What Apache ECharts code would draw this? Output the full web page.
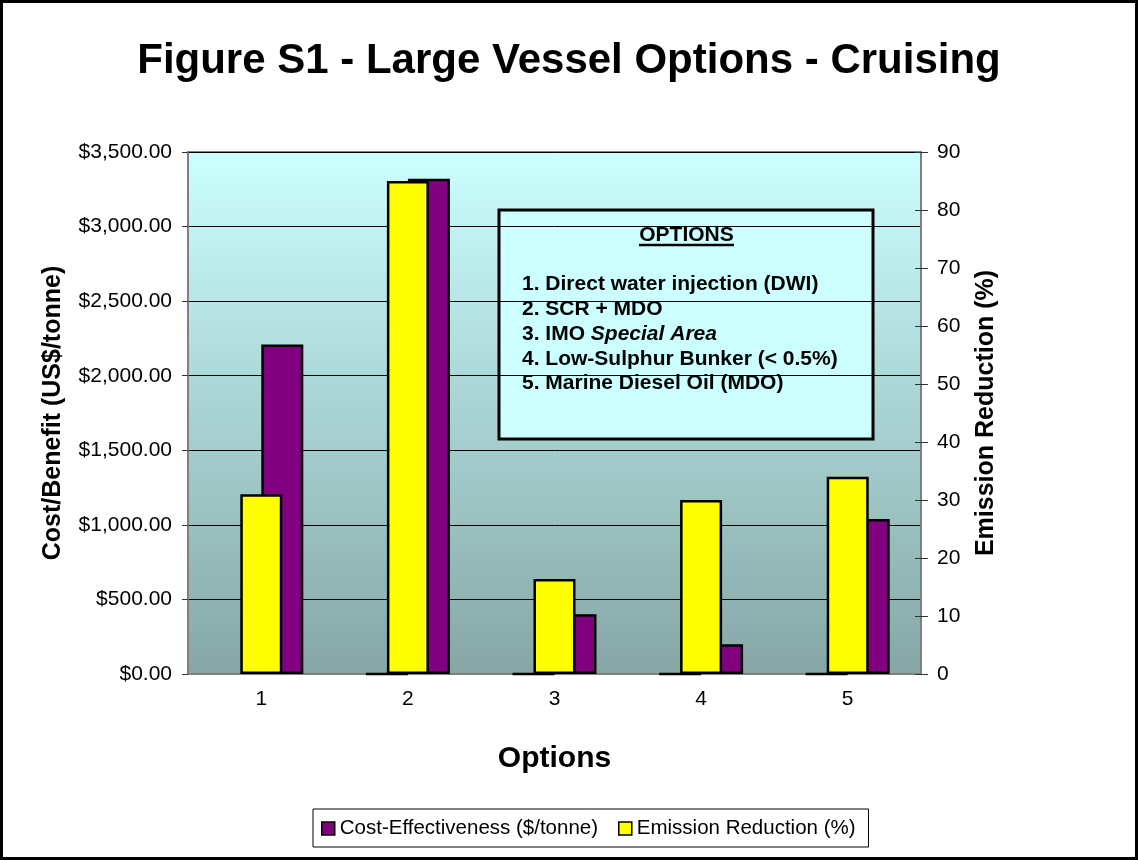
<!DOCTYPE html>
<html>
<head>
<meta charset="utf-8">
<script src="https://cdn.jsdelivr.net/npm/echarts@6/dist/echarts.min.js"></script>
<style>
  html, body { margin: 0; padding: 0; background: #fff; }
  #chart { width: 1138px; height: 860px; }
</style>
</head>
<body>
<div id="chart"></div>
<script>
// data
var options = ['1', '2', '3', '4', '5'];
var costEffectiveness = [2210, 3320, 400, 200, 1040];   // $/tonne, left axis
var emissionReduction = [31, 85, 16.4, 30, 34];          // %, right axis
var baseline = [null, 0, 0, 0, 0];                        // empty primary series (flat marks at 0)
var costMax = 3500, costStep = 500;
var emisMax = 90, emisStep = 10;

var optionLines = [
  '1. Direct water injection (DWI)',
  '2. SCR + MDO',
  '3. IMO {i|Special Area}',
  '4. Low-Sulphur Bunker (< 0.5%)',
  '5. Marine Diesel Oil (MDO)'
];

var FONT = 'Liberation Sans, Arial, sans-serif';

var chart = echarts.init(document.getElementById('chart'));

var option = {
  animation: false,
  textStyle: { fontFamily: FONT, color: '#000' },
  title: {
    text: 'Figure S1 - Large Vessel Options - Cruising',
    left: 'center',
    top: 35,
    textStyle: { fontFamily: FONT, fontSize: 42, fontWeight: 'bold', color: '#000' }
  },
  legend: {
    data: ['Cost-Effectiveness ($/tonne)', 'Emission Reduction (%)'],
    left: 313,
    top: 809,
    icon: 'rect',
    itemWidth: 13,
    itemHeight: 13,
    itemGap: 20,
    padding: [9, 13, 8, 8],
    borderColor: '#000',
    borderWidth: 1,
    backgroundColor: '#fff',
    itemStyle: { borderColor: '#000', borderWidth: 1.5 },
    textStyle: { fontFamily: FONT, fontSize: 20.5, color: '#000' }
  },
  grid: {
    left: 188,
    right: 217,
    top: 152,
    bottom: 186,
    show: true,
    borderColor: '#808080',
    borderWidth: 2,
    backgroundColor: {
      type: 'linear', x: 0, y: 0, x2: 0, y2: 1,
      colorStops: [
        { offset: 0, color: '#ccffff' },
        { offset: 1, color: '#86a6a6' }
      ]
    }
  },
  xAxis: [
    {
      type: 'category',
      data: options,
      boundaryGap: true,
      axisLine: { lineStyle: { color: '#808080', width: 2 } },
      axisTick: { length: 8, lineStyle: { color: '#333' } },
      axisLabel: { fontFamily: FONT, fontSize: 21, color: '#000', margin: 15 },
      name: 'Options',
      nameLocation: 'middle',
      nameGap: 70,
      nameTextStyle: { fontFamily: FONT, fontSize: 30, fontWeight: 'bold', color: '#000' }
    },
    {
      type: 'category',
      data: options,
      show: false
    }
  ],
  yAxis: [
    {
      type: 'value',
      position: 'left',
      min: 0, max: costMax, interval: costStep,
      axisLine: { show: true, lineStyle: { color: '#808080', width: 2 } },
      axisTick: { show: true, length: 6, lineStyle: { color: '#333' } },
      splitLine: { show: true, lineStyle: { color: '#000', width: 1 } },
      axisLabel: {
        fontFamily: FONT, fontSize: 21, color: '#000', margin: 16,
        formatter: function (v) {
          return '$' + v.toLocaleString('en-US', { minimumFractionDigits: 2, maximumFractionDigits: 2 });
        }
      },
      name: 'Cost/Benefit (US$/tonne)',
      nameLocation: 'middle',
      nameRotate: 90,
      nameGap: 122,
      nameTextStyle: { fontFamily: FONT, fontSize: 25, fontWeight: 'bold', color: '#000' }
    },
    {
      type: 'value',
      position: 'right',
      min: 0, max: emisMax, interval: emisStep,
      axisLine: { show: true, lineStyle: { color: '#808080', width: 2 } },
      axisTick: { show: true, length: 7, lineStyle: { color: '#333' } },
      splitLine: { show: false },
      axisLabel: { fontFamily: FONT, fontSize: 21, color: '#000', margin: 16 },
      name: 'Emission Reduction (%)',
      nameLocation: 'middle',
      nameRotate: 90,
      nameGap: 53,
      nameTextStyle: { fontFamily: FONT, fontSize: 25, fontWeight: 'bold', color: '#000' }
    },
    {
      // inner half of the crossing ticks on the right axis
      type: 'value',
      position: 'right',
      min: 0, max: emisMax, interval: emisStep,
      axisLine: { show: false },
      axisTick: { show: true, inside: true, length: 6, lineStyle: { color: '#333' } },
      axisLabel: { show: false },
      splitLine: { show: false }
    }
  ],
  series: [
    {
      name: 'Baseline',
      type: 'bar',
      xAxisIndex: 0,
      yAxisIndex: 0,
      barWidth: 42,
      barGap: '0%',
      data: baseline,
      itemStyle: { color: '#800080', borderColor: '#000', borderWidth: 2.5 }
    },
    {
      name: 'Cost-Effectiveness ($/tonne)',
      type: 'bar',
      xAxisIndex: 0,
      yAxisIndex: 0,
      barWidth: 42,
      barGap: '0%',
      data: costEffectiveness,
      itemStyle: { color: '#800080', borderColor: '#000', borderWidth: 2.5 }
    },
    {
      name: 'Emission Reduction (%)',
      type: 'bar',
      xAxisIndex: 1,
      yAxisIndex: 1,
      barWidth: 42,
      data: emissionReduction,
      itemStyle: { color: '#ffff00', borderColor: '#000', borderWidth: 2.5 }
    }
  ],
  graphic: [
    {
      // outer frame
      type: 'rect',
      shape: { x: 1.5, y: 1.5, width: 1135, height: 857 },
      style: { fill: null, stroke: '#000', lineWidth: 3 },
      silent: true
    },
    {
      type: 'group',
      z: 100,
      children: [
        {
          type: 'rect',
          shape: { x: 499, y: 210, width: 374, height: 229 },
          style: { fill: '#ccffff', stroke: '#000', lineWidth: 3 }
        },
        {
          type: 'text',
          x: 686.5, y: 235,
          style: {
            text: 'OPTIONS', fontFamily: FONT, fontSize: 21, fontWeight: 'bold',
            fill: '#000', align: 'center', verticalAlign: 'middle'
          }
        },
        {
          type: 'line',
          shape: { x1: 639, y1: 245, x2: 734, y2: 245 },
          style: { stroke: '#000', lineWidth: 2.5 }
        },
        {
          type: 'text',
          x: 522, y: 272,
          style: {
            text: optionLines.join('\n'),
            fontFamily: FONT, fontSize: 21, fontWeight: 'bold', fill: '#000',
            lineHeight: 24.8, align: 'left', verticalAlign: 'top',
            rich: {
              i: { fontFamily: FONT, fontSize: 21, fontWeight: 'bold', fontStyle: 'italic', lineHeight: 24.8 }
            }
          }
        }
      ]
    }
  ]
};

chart.setOption(option);
window.addEventListener('resize', function () {
  chart.resize();
});
</script>
</body>
</html>
